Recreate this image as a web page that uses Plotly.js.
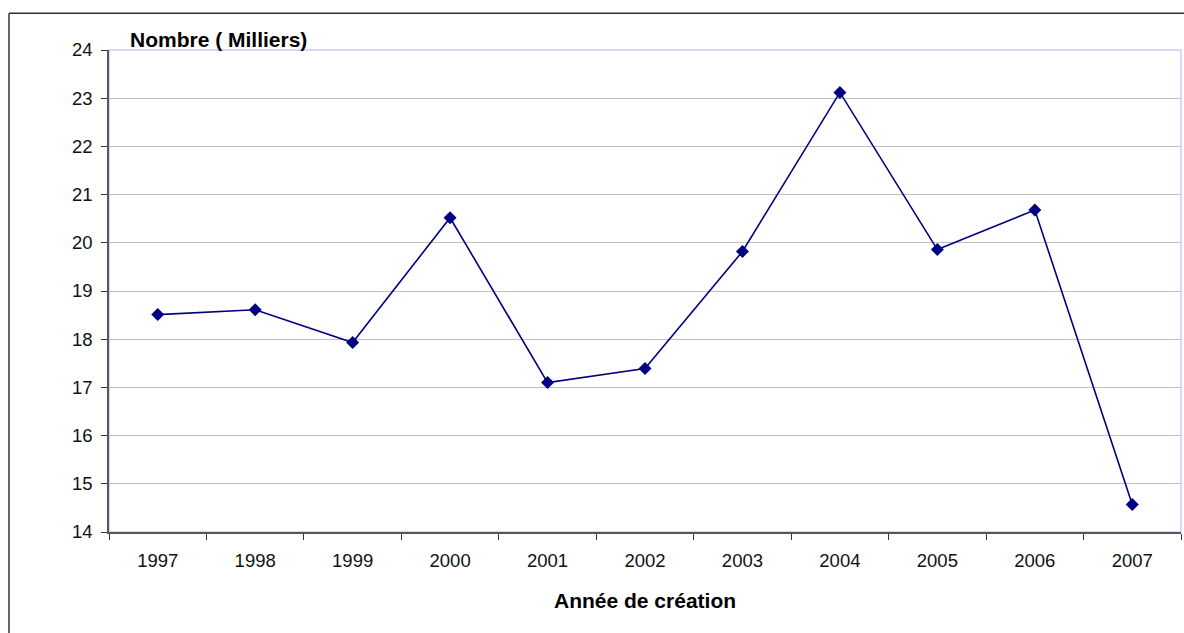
<!DOCTYPE html>
<html>
<head>
<meta charset="utf-8">
<script src="https://cdn.plot.ly/plotly-3.0.1.min.js"></script>
<style>
html,body{margin:0;padding:0;background:#fff;}
#chart{width:1184px;height:633px;}
</style>
</head>
<body>
<div id="chart"></div>
<script>
const years = ["1997","1998","1999","2000","2001","2002","2003","2004","2005","2006","2007"];
const values = [18.51, 18.61, 17.93, 20.52, 17.10, 17.39, 19.82, 23.12, 19.86, 20.68, 14.57];
const yTitle = "Nombre ( Milliers)";
const xTitle = "Année de création";

const trace = {
  x: years,
  y: values,
  type: "scatter",
  mode: "lines+markers",
  line: {color: "#000080", width: 1.6},
  marker: {symbol: "diamond", size: 10, color: "#000080"},
  hoverinfo: "x+y"
};

const layout = {
  width: 1184,
  height: 633,
  margin: {l: 109, r: 3, t: 50, b: 101},
  paper_bgcolor: "#ffffff",
  plot_bgcolor: "#ffffff",
  showlegend: false,
  font: {family: "Liberation Sans, Arial, sans-serif", color: "#000"},
  xaxis: {
    type: "category",
    range: [-0.5, 10.5],
    tickson: "boundaries",
    ticks: "outside",
    ticklen: 6,
    tickwidth: 1,
    tickcolor: "#333",
    ticklabelstandoff: 11,
    showgrid: false,
    showline: true,
    linecolor: "#555566",
    linewidth: 1.5,
    tickfont: {size: 18.5, color: "#111"},
    fixedrange: true
  },
  yaxis: {
    range: [14, 24],
    dtick: 1,
    tick0: 14,
    ticks: "outside",
    ticklen: 6,
    tickwidth: 1,
    tickcolor: "#333",
    ticklabelstandoff: 5,
    showgrid: true,
    gridcolor: "#c0c0c0",
    gridwidth: 1,
    zeroline: false,
    showline: true,
    linecolor: "#555566",
    linewidth: 1.5,
    tickfont: {size: 18.5, color: "#111"},
    fixedrange: true
  },
  shapes: [
    {type: "rect", xref: "paper", yref: "paper", x0: 0, x1: 1, y0: 0, y1: 1,
     line: {color: "#ccccff", width: 1.5}, layer: "below"},
    {type: "line", xref: "paper", yref: "paper", x0: -0.0933, x1: 1.01, y0: 1.0765, y1: 1.0765,
     line: {color: "#333333", width: 1.5}},
    {type: "line", xref: "paper", yref: "paper", x0: -0.0933, x1: -0.0933, y0: 1.0765, y1: -0.22,
     line: {color: "#333333", width: 1.5}}
  ],
  annotations: [
    {text: "<b>" + yTitle + "</b>", xref: "paper", yref: "paper", x: 0.0175, y: 1.021,
     xanchor: "left", yanchor: "middle", showarrow: false, font: {size: 21, color: "#000"}},
    {text: "<b>" + xTitle + "</b>", xref: "paper", yref: "paper", x: 0.5, y: -0.143,
     xanchor: "center", yanchor: "middle", showarrow: false, font: {size: 21, color: "#000"}}
  ]
};

Plotly.newPlot("chart", [trace], layout, {displayModeBar: false});
</script>
</body>
</html>
